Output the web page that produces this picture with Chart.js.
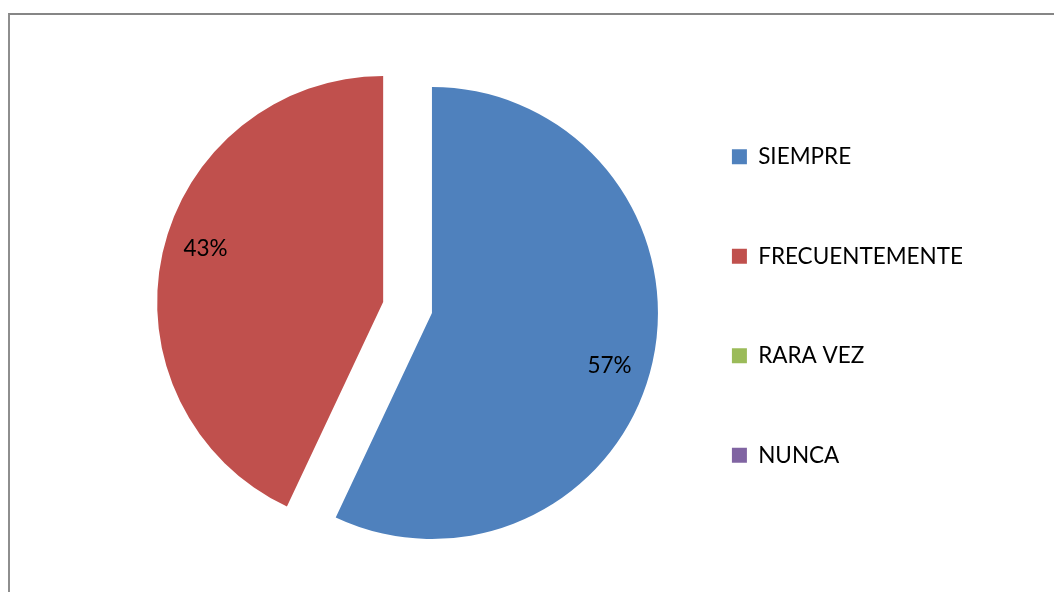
<!DOCTYPE html>
<html>
<head>
<meta charset="utf-8">
<script src="https://cdn.jsdelivr.net/npm/chart.js@4"></script>
<style>
  html, body { margin: 0; padding: 0; background: #fff; }
  #wrap { position: relative; width: 1054px; height: 592px; overflow: hidden; }
  #frame { position: absolute; left: 8px; top: 13px; width: 1100px; height: 700px;
           border-top: 2px solid #868686; border-left: 2px solid #8e8e8e; }
  canvas { position: absolute; left: 0; top: 0; }
</style>
</head>
<body>
<div id="wrap">
  <div id="frame"></div>
  <canvas id="chart1" width="1054" height="592"></canvas>
</div>
<script>
        const categories = ['SIEMPRE', 'FRECUENTEMENTE', 'RARA VEZ', 'NUNCA'];
        const values = [57, 43, 0, 0];
        const colors = ['#4F81BD', '#C0504D', '#9BBB59', '#8064A2'];
        const explode = [0, 200, 0, 0];

        const pieRadius = 226;
        const fontFamily = 'Lato, "Open Sans", sans-serif';

        // Chart.js grows and trims an exploded slice; keep its radius and angles as they are
        const keepRadius = {
            id: 'keepRadius',
            afterDatasetUpdate(chart, args) {
                const meta = chart.getDatasetMeta(args.index);
                meta.data.forEach((arc) => {
                    const off = (arc.options.offset || 0) / 4;
                    if (!off || !arc.circumference) return;
                    const fix = 1 - Math.sin(Math.min(Math.PI, arc.circumference));
                    const grow = off * fix;
                    arc.outerRadius = pieRadius - grow;
                    const trim = (grow / Math.PI) / (2 * pieRadius);
                    arc.startAngle -= trim;
                    arc.endAngle += trim;
                });
            }
        };

        // Percent labels drawn on each slice
        const pctLabels = {
            id: 'pctLabels',
            afterDatasetsDraw(chart) {
                const ctx = chart.ctx;
                const meta = chart.getDatasetMeta(0);
                const total = values.reduce((s, v) => s + v, 0);
                ctx.save();
                ctx.font = '22.5px ' + fontFamily;
                ctx.fillStyle = '#000';
                ctx.textAlign = 'center';
                ctx.textBaseline = 'middle';
                meta.data.forEach((arc, i) => {
                    if (!values[i]) return;
                    const half = (arc.startAngle + arc.endAngle) / 2;
                    const shift = (arc.options.offset || 0) / 4;
                    const a = half + 0.07;
                    const r = pieRadius * 0.82;
                    const x = arc.x + Math.cos(half) * shift + Math.cos(a) * r;
                    const y = arc.y + Math.sin(half) * shift + Math.sin(a) * r;
                    ctx.fillText(Math.round(values[i] / total * 100) + '%', x, y);
                });
                ctx.restore();
            }
        };

        const chart = new Chart(document.getElementById('chart1').getContext('2d'), {
            type: 'pie',
            data: {
                labels: categories,
                datasets: [{
                    data: values,
                    backgroundColor: colors,
                    borderWidth: 0,
                    offset: explode,
                    radius: pieRadius
                }]
            },
            options: {
                responsive: false,
                animation: false,
                layout: { padding: { left: 209, right: 81, top: 20, bottom: 0 } },
                plugins: {
                    title: { display: true, text: '', fullSize: false, padding: 0, font: { size: 14, lineHeight: 1 } },
                    tooltip: { enabled: false },
                    legend: {
                        position: 'right',
                        labels: {
                            boxWidth: 15,
                            boxHeight: 15,
                            padding: 77,
                            color: '#000',
                            font: { family: fontFamily, size: 22.5 }
                        }
                    }
                }
            },
            plugins: [keepRadius, pctLabels]
        });
</script>
</body>
</html>
